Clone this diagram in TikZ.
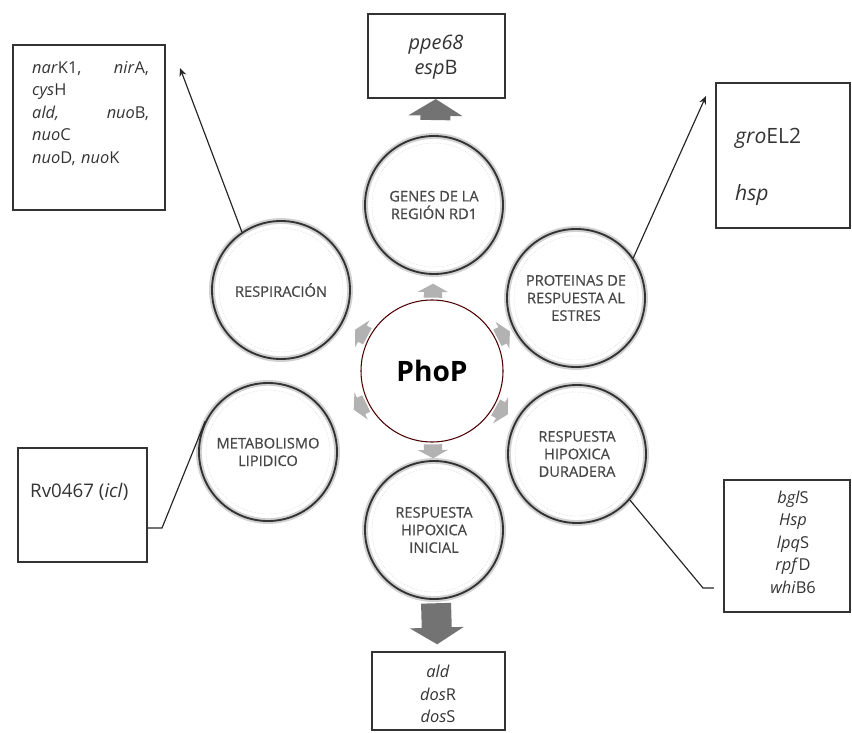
\documentclass[tikz,border=0pt]{standalone}
\usepackage{fontspec}
\setmainfont{Open Sans}
\newfontfamily\satfont[FakeBold=0.6]{Open Sans}
\usetikzlibrary{arrows.meta,calc,positioning}
\tikzset{
  sat/.style     = {circle, draw=black!80, line width=1.6pt, minimum size=4.14cm,
                    inner sep=0pt, align=center, text=black!72,
                    font=\satfont\fontsize{12.5}{15}\selectfont,
                    preaction={draw=black!18, line width=5pt}},
  hub/.style     = {circle, draw=red!30!black, line width=0.9pt, minimum size=4.26cm,
                    inner sep=0pt, font=\fontsize{24}{27}\selectfont\bfseries},
  genebox/.style = {draw=black!80, line width=1.8pt, rectangle, inner sep=0pt},
  genes/.style   = {text=black!80, font=\fontsize{14}{19.2}\selectfont, inner sep=0pt},
  link/.style    = {line width=0.55cm, black!30, -{Triangle[length=0.25cm,width=0.9cm]}},
  fat/.style     = {line width=0.9cm, black!55, -{Triangle[length=0.5cm,width=1.6cm]}},
  pointer/.style = {line width=1pt, black!85},
  tip/.style     = {-{Stealth[length=7pt,width=6pt]}},
}
\newcommand{\gn}[1]{\textit{#1}}

\begin{document}
\begin{tikzpicture}[x=0.03cm, y=-0.03cm]
\useasboundingbox (0,0) rectangle (852,732);
% ---- hub and satellites ----
\node[hub] (phop) at (432,371) {PhoP};
\node[sat] (rd1) at (434,205) {GENES DE LA\\REGIÓN RD1};
\node[sat] (estres) at (576,298) {PROTEINAS DE\\RESPUESTA AL\\ESTRES};
\node[sat] (duradera) at (577,454) {RESPUESTA\\HIPOXICA\\DURADERA};
\node[sat] (inicial) at (434,530) {RESPUESTA\\HIPOXICA\\INICIAL};
\node[sat] (lipido) at (268,452) {METABOLISMO\\LIPIDICO};
\node[sat] (resp) at (281,290) {RESPIRACIÓN};
\foreach \n in {rd1,estres,duradera,inicial,lipido,resp}{
  \draw[black!22, densely dotted] (\n.center) circle (62);
  \draw[link] ($(phop)!2.2cm!(\n)$) -- ($(phop)!2.62cm!(\n)$);
}

% ---- gene boxes ----
\node[genebox, minimum width=4.56cm, minimum height=4.95cm] (bResp) at (89,127.5) {};
\node[genebox, minimum width=4.11cm, minimum height=2.52cm] (bRD1) at (436.5,56) {};
\node[genebox, minimum width=4.02cm, minimum height=4.35cm] (bEstres) at (783,155.5) {};
\node[genebox, minimum width=3.87cm, minimum height=3.42cm] (bLipido) at (82.5,505) {};
\node[genebox, minimum width=3.78cm, minimum height=3.96cm] (bDurad) at (787,546) {};
\node[genebox, minimum width=3.99cm, minimum height=2.34cm] (bInicial) at (438.5,691) {};

\node[genes, anchor=north west, text width=3.5cm, align=left] (tResp) at (32,61)
  {\gn{nar}K1,\hfill\gn{nir}A,\\\gn{cys}H\\\gn{ald,}\hfill\gn{nuo}B,\\\gn{nuo}C\\\gn{nuo}D, \gn{nuo}K};
\node[genes, align=center, font=\fontsize{17}{21}\selectfont] (tRD1) at (436,57) {\gn{ppe68}\\\gn{esp}B};
\node[genes, anchor=west, font=\fontsize{18}{20}\selectfont] (tGro) at (735,138) {\gn{gro}EL2};
\node[genes, anchor=west, font=\fontsize{18}{20}\selectfont] (tHsp) at (735,195) {\gn{hsp}};
\node[genes, anchor=west, font=\fontsize{16}{20}\selectfont] (tLipido) at (30,492) {Rv0467 (\gn{icl})};
\node[genes, align=center] (tDurad) at (793,542) {\gn{bgl}S\\\gn{Hsp}\\\gn{lpq}S\\\gn{rpf}D\\\gn{whi}B6};
\node[genes, align=center] (tInicial) at (438,694) {\gn{ald}\\\gn{dos}R\\\gn{dos}S};

% ---- connectors ----
\draw[fat, shorten <=0.45cm] (rd1) -- (bRD1);
\draw[fat, shorten <=0.1cm, shorten >=0.2cm] (inicial) -- (bInicial);
\coordinate (respTip) at (180,68);
\coordinate (estresTip) at (706,96);
\coordinate (lipKink) at (162,528);
\coordinate (durKink) at (703,588);
\draw[pointer, tip] (resp.124) -- (respTip);
\draw[pointer, tip] (estres.35) -- (estresTip);
\draw[pointer] (lipido.154) -- (lipKink) -- (lipKink -| bLipido.east);
\draw[pointer, shorten >=0.27cm] (duradera.-41) -- (durKink) -- (durKink -| bDurad.west);
\end{tikzpicture}
\end{document}
